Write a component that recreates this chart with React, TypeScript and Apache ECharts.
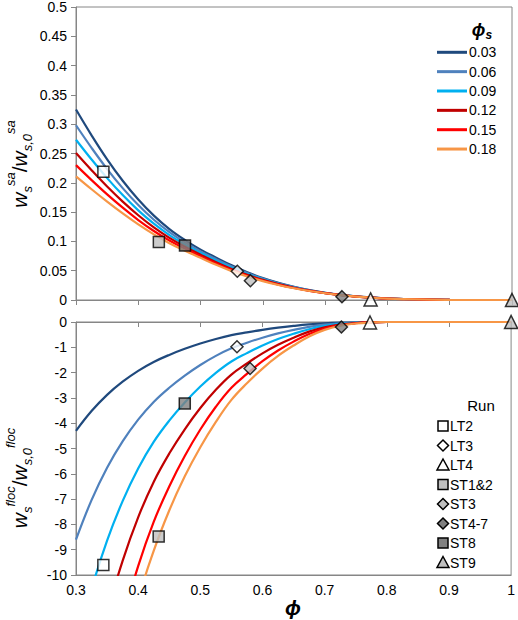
import React, { useEffect, useRef } from "react";
import * as echarts from "echarts";

const phi = [0.3, 0.325, 0.35, 0.375, 0.4, 0.425, 0.45, 0.475, 0.5, 0.525, 0.55, 0.575, 0.6, 0.625, 0.65, 0.675, 0.7, 0.725, 0.75, 0.775, 0.8, 0.85, 0.9, 0.95, 1.0];

const seriesNames = ["0.03", "0.06", "0.09", "0.12", "0.15", "0.18"];
const lineColors = ["#1f497d", "#4f81bd", "#00b0f0", "#c00000", "#ff0000", "#f79646"];

// settling (sa) ratio, top panel
const sa003 = [0.325, 0.281, 0.24, 0.2035, 0.1715, 0.144, 0.121, 0.1022, 0.086, 0.0722, 0.0591, 0.0474, 0.0375, 0.0292, 0.0224, 0.0168, 0.0124, 0.0088, 0.0061, 0.0041, 0.0026, 0.0009, 0.0002, 0, 0];
const sa006 = [0.2982, 0.2596, 0.2234, 0.1909, 0.162, 0.1369, 0.1158, 0.0983, 0.083, 0.0696, 0.057, 0.0459, 0.0364, 0.0284, 0.0219, 0.0165, 0.0122, 0.0087, 0.006, 0.0041, 0.0026, 0.0009, 0.0002, 0, 0];
const sa009 = [0.2735, 0.2398, 0.208, 0.179, 0.153, 0.1302, 0.1108, 0.0945, 0.0801, 0.0671, 0.0549, 0.0444, 0.0353, 0.0277, 0.0214, 0.0162, 0.012, 0.0086, 0.006, 0.004, 0.0026, 0.0009, 0.0002, 0, 0];
const sa012 = [0.2508, 0.2215, 0.1936, 0.1679, 0.1446, 0.1238, 0.106, 0.0909, 0.0773, 0.0646, 0.053, 0.0429, 0.0343, 0.027, 0.0209, 0.0159, 0.0118, 0.0085, 0.0059, 0.004, 0.0026, 0.0009, 0.0002, 0, 0];
const sa015 = [0.2301, 0.2046, 0.1802, 0.1575, 0.1365, 0.1178, 0.1014, 0.0874, 0.0746, 0.0623, 0.0511, 0.0415, 0.0333, 0.0263, 0.0205, 0.0156, 0.0117, 0.0084, 0.0059, 0.004, 0.0025, 0.0009, 0.0002, 0, 0];
const sa018 = [0.211, 0.189, 0.1678, 0.1477, 0.129, 0.112, 0.097, 0.084, 0.072, 0.06, 0.0493, 0.0402, 0.0323, 0.0256, 0.02, 0.0153, 0.0115, 0.0083, 0.0058, 0.0039, 0.0025, 0.0009, 0.0002, 0, 0];

// floc ratio, bottom panel
const fl003 = [-4.3, -3.52, -2.88, -2.36, -1.93, -1.58, -1.3, -1.06, -0.85, -0.67, -0.52, -0.41, -0.31, -0.225, -0.155, -0.095, -0.052, -0.025, -0.01, -0.003, 0, 0, 0, 0, 0];
const fl006 = [-8.6, -7.04, -5.76, -4.72, -3.86, -3.16, -2.6, -2.12, -1.7, -1.34, -1.04, -0.82, -0.62, -0.45, -0.31, -0.19, -0.104, -0.05, -0.02, -0.006, 0, 0, 0, 0, 0];
const fl009 = [-12.9, -10.56, -8.64, -7.08, -5.79, -4.74, -3.9, -3.18, -2.55, -2.01, -1.56, -1.23, -0.93, -0.675, -0.465, -0.285, -0.156, -0.075, -0.03, -0.009, 0, 0, 0, 0, 0];
const fl012 = [-17.2, -14.08, -11.52, -9.44, -7.72, -6.32, -5.2, -4.24, -3.4, -2.68, -2.08, -1.64, -1.24, -0.9, -0.62, -0.38, -0.21, -0.1, -0.04, -0.012, 0, 0, 0, 0, 0];
const fl015 = [-21.5, -17.6, -14.4, -11.8, -9.65, -7.9, -6.5, -5.3, -4.25, -3.35, -2.6, -2.05, -1.55, -1.125, -0.775, -0.475, -0.26, -0.125, -0.05, -0.015, 0, 0, 0, 0, 0];
const fl018 = [-25.8, -21.1, -17.3, -13.9, -11.0, -9.05, -7.45, -6.1, -4.95, -3.95, -3.08, -2.42, -1.84, -1.34, -0.93, -0.57, -0.31, -0.15, -0.06, -0.018, 0, 0, 0, 0, 0];

const saCurves = [sa003, sa006, sa009, sa012, sa015, sa018];
const flCurves = [fl003, fl006, fl009, fl012, fl015, fl018];

// experimental runs
const runNames = ["LT2", "LT3", "LT4", "ST1&2", "ST3", "ST4-7", "ST8", "ST9"];
const runSymbols = ["rect", "diamond", "triangle", "rect", "diamond", "diamond", "rect", "triangle"];
const runFills = ["#ffffff", "#ffffff", "#ffffff", "#bfbfbf", "#bfbfbf", "#808080", "#808080", "#bfbfbf"];
const runPhi = [0.344, 0.559, 0.773, 0.433, 0.58, 0.727, 0.475, 1.0];
const runSa = [0.219, 0.049, 0.001, 0.099, 0.033, 0.0057, 0.093, 0];
const runFloc = [-9.6, -0.98, -0.02, -8.48, -1.84, -0.2, -3.22, 0];

const xTicks = { min: 0.3, max: 1, interval: 0.1 };

const FONT = "Liberation Sans";
const GRAY = "#868686";

export default function App() {
  const ref = useRef<HTMLDivElement>(null);

  useEffect(() => {
    if (!ref.current) return;
    const chart = echarts.init(ref.current, undefined, { renderer: "svg" });

    const gridL = 76, gridW = 436;
    const topTop = 7, topH = 293;
    const botTop = 322, botH = 253;

    const series: any[] = [];
    seriesNames.forEach((name, i) => {
      series.push({
        name,
        type: "line",
        xAxisIndex: 0,
        yAxisIndex: 0,
        data: phi.map((p, j) => [p, saCurves[i][j]]),
        smooth: 0.4,
        symbol: "none",
        lineStyle: { color: lineColors[i], width: 2.2 },
        z: 2,
      });
      series.push({
        name: name + " floc",
        type: "line",
        xAxisIndex: 1,
        yAxisIndex: 1,
        data: phi.map((p, j) => [p, flCurves[i][j]]),
        smooth: 0.4,
        symbol: "none",
        lineStyle: { color: lineColors[i], width: 2.2 },
        z: 2,
      });
    });
    runNames.forEach((name, i) => {
      const common = {
        type: "scatter",
        symbol: runSymbols[i],
        symbolSize: runSymbols[i] === "triangle" ? 13 : runSymbols[i] === "diamond" ? 12 : 11,
        itemStyle: { color: runFills[i], borderColor: "#000", borderWidth: 1.5 },
        clip: false,
        z: 5,
      };
      series.push({ ...common, name, xAxisIndex: 0, yAxisIndex: 0, data: [[runPhi[i], runSa[i]]] });
      series.push({ ...common, name: name + " floc", xAxisIndex: 1, yAxisIndex: 1, data: [[runPhi[i], runFloc[i]]] });
    });

    const axisLine = { show: true, onZero: false, lineStyle: { color: GRAY, width: 1 } };
    const tick = { show: true, length: 5, lineStyle: { color: GRAY, width: 1 } };
    const label = { color: "#000", fontSize: 14, fontFamily: FONT };

    const graphics: any[] = [];
    const titleRich = {
      w: { fontSize: 21, fontStyle: "italic", fontFamily: FONT, lineHeight: 30, verticalAlign: "middle", fill: "#000" },
      sub: { fontSize: 13, fontStyle: "italic", fontFamily: FONT, lineHeight: 13, verticalAlign: "bottom", fill: "#000" },
      sup: { fontSize: 13, fontStyle: "italic", fontFamily: FONT, lineHeight: 13, verticalAlign: "top", fill: "#000" },
      sl: { fontSize: 21, fontFamily: FONT, lineHeight: 30, verticalAlign: "middle", fill: "#000" },
    };
    graphics.push({
      type: "text", x: 19, y: 164, rotation: Math.PI / 2,
      style: { text: "{w|w}{sub|s}{sup|sa}{sl|/}{w|w}{sub|s,0}{sup|sa}", rich: titleRich, align: "center", verticalAlign: "middle" },
    });
    graphics.push({
      type: "text", x: 19, y: 478, rotation: Math.PI / 2,
      style: { text: "{w|w}{sub|s}{sup|floc}{sl|/}{w|w}{sub|s,0}{sup|floc}", rich: titleRich, align: "center", verticalAlign: "middle" },
    });
    graphics.push({
      type: "text", x: 293, y: 607,
      style: { text: "\u03d5", fontSize: 21, fontStyle: "italic", fontWeight: "bold", fontFamily: FONT, fill: "#000", align: "center", verticalAlign: "middle" },
    });
    graphics.push({
      type: "text", x: 482, y: 30,
      style: {
        text: "{p|\u03d5}{s|s}",
        rich: {
          p: { fontSize: 18, fontStyle: "italic", fontWeight: "bold", fontFamily: FONT, lineHeight: 22, verticalAlign: "middle", fill: "#000" },
          s: { fontSize: 12, fontStyle: "italic", fontWeight: "bold", fontFamily: FONT, lineHeight: 12, verticalAlign: "bottom", fill: "#000" },
        },
        align: "center", verticalAlign: "middle",
      },
    });
    seriesNames.forEach((name, i) => {
      const y = 52.3 + i * 19.35;
      graphics.push({ type: "line", shape: { x1: 437, y1: y, x2: 467, y2: y }, style: { stroke: lineColors[i], lineWidth: 3 } });
      graphics.push({ type: "text", x: 469, y, style: { text: name, fontSize: 14, fontFamily: FONT, fill: "#000", align: "left", verticalAlign: "middle" } });
    });
    graphics.push({
      type: "text", x: 481, y: 405,
      style: { text: "Run", fontSize: 15, fontFamily: FONT, fill: "#000", align: "center", verticalAlign: "middle" },
    });
    runNames.forEach((name, i) => {
      const y = 426 + i * 19.5;
      const cx = 443;
      const st = { fill: runFills[i], stroke: "#000", lineWidth: 1.5 };
      if (runSymbols[i] === "rect") {
        graphics.push({ type: "rect", shape: { x: cx - 5, y: y - 5, width: 10, height: 10 }, style: st });
      } else if (runSymbols[i] === "diamond") {
        graphics.push({ type: "polygon", shape: { points: [[cx, y - 5.5], [cx + 5.5, y], [cx, y + 5.5], [cx - 5.5, y]] }, style: st });
      } else {
        graphics.push({ type: "polygon", shape: { points: [[cx, y - 6], [cx + 6, y + 5], [cx - 6, y + 5]] }, style: st });
      }
      graphics.push({ type: "text", x: 450, y, style: { text: name, fontSize: 14, fontFamily: FONT, fill: "#000", align: "left", verticalAlign: "middle" } });
    });

    chart.setOption({
      animation: false,
      backgroundColor: "#fff",
      textStyle: { fontFamily: FONT },
      grid: [
        { left: gridL, top: topTop, width: gridW, height: topH, show: true, borderColor: GRAY, borderWidth: 1, containLabel: false },
        { left: gridL, top: botTop, width: gridW, height: botH, show: true, borderColor: GRAY, borderWidth: 1, containLabel: false },
      ],
      xAxis: [
        { gridIndex: 0, type: "value", ...xTicks, position: "bottom", axisLine, axisTick: tick, axisLabel: { show: false }, splitLine: { show: false } },
        { gridIndex: 1, type: "value", ...xTicks, position: "bottom", axisLine, axisTick: { show: false }, axisLabel: { ...label, margin: 8 }, splitLine: { show: false } },
        { gridIndex: 1, type: "value", ...xTicks, position: "top", axisLine, axisTick: { ...tick, inside: true }, axisLabel: { show: false }, splitLine: { show: false } },
      ],
      yAxis: [
        { gridIndex: 0, type: "value", min: 0, max: 0.5, interval: 0.05, axisLine, axisTick: tick, axisLabel: { ...label, margin: 9 }, splitLine: { show: false } },
        { gridIndex: 1, type: "value", min: -10, max: 0, interval: 1, axisLine, axisTick: tick, axisLabel: { ...label, margin: 9 }, splitLine: { show: false } },
      ],
      series,
      graphic: graphics,
    });

    return () => chart.dispose();
  }, []);

  return <div ref={ref} style={{ position: "absolute", left: 0, top: 0, width: 518, height: 620 }} />;
}
